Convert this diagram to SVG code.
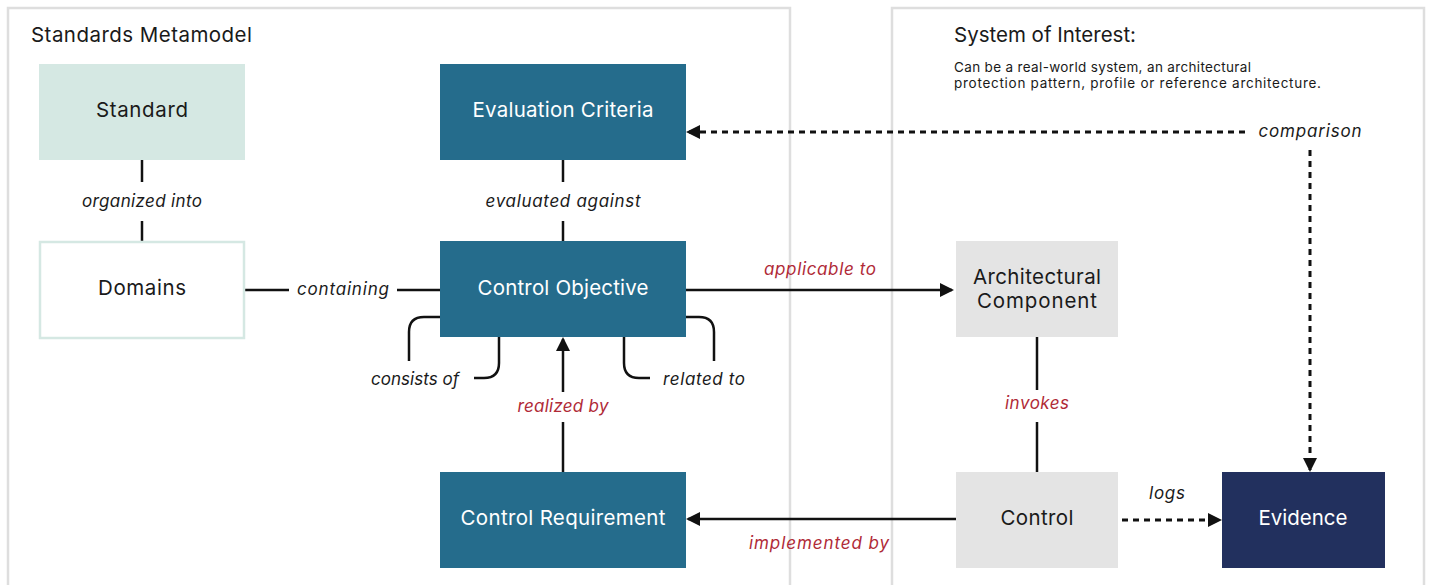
<svg xmlns="http://www.w3.org/2000/svg" width="1432" height="585" viewBox="0 0 1432 585">
<style>
.frame{fill:#fff;stroke:#dedede;stroke-width:2.5}
.t{font-family:Inter,"Open Sans","DejaVu Sans",sans-serif;text-anchor:middle}
.node{font-size:20.5px}
.dark{fill:#fff}
.light{fill:#1a1a1a}
.lbl{font-size:17px;font-style:italic;fill:#1a1a1a}
.red{fill:#b02a37}
.ln{fill:none;stroke:#111;stroke-width:2.5}
.dash{fill:none;stroke:#111;stroke-width:3;stroke-dasharray:6 5}
.title{font-family:Inter,"Open Sans","DejaVu Sans",sans-serif;font-size:20.5px;fill:#1a1a1a}
.small{font-family:Inter,"Open Sans","DejaVu Sans",sans-serif;font-size:13.5px;fill:#1a1a1a}
</style>
<defs>
<marker id="ah" markerUnits="userSpaceOnUse" markerWidth="16" markerHeight="14" refX="12" refY="7" orient="auto">
<path d="M0,0 L14,7 L0,14 z" fill="#111"/>
</marker>
</defs>
<rect x="0" y="0" width="1432" height="585" fill="#fff"/>
<g id="frame-standards">
<rect class="frame" x="8" y="8" width="782" height="600"/>
<text class="title" x="31" y="42" textLength="221" lengthAdjust="spacing">Standards Metamodel</text>
</g>
<g id="frame-system">
<rect class="frame" x="892" y="8" width="532" height="600"/>
<text class="title" x="954" y="42" textLength="182" lengthAdjust="spacing">System of Interest:</text>
<text class="small" x="954" y="72" textLength="297" lengthAdjust="spacing">Can be a real-world system, an architectural</text>
<text class="small" x="954" y="88" textLength="367" lengthAdjust="spacing">protection pattern, profile or reference architecture.</text>
</g>
<g id="connectors">
<line class="ln" x1="142" y1="160" x2="142" y2="182"/>
<line class="ln" x1="142" y1="221" x2="142" y2="241"/>
<text class="t lbl" x="142" y="207" textLength="120" lengthAdjust="spacing">organized into</text>
<line class="ln" x1="563" y1="160" x2="563" y2="182"/>
<line class="ln" x1="563" y1="221" x2="563" y2="241"/>
<text class="t lbl" x="563" y="207" textLength="155" lengthAdjust="spacing">evaluated against</text>
<line class="ln" x1="245" y1="290" x2="289" y2="290"/>
<line class="ln" x1="397" y1="290" x2="440" y2="290"/>
<text class="t lbl" x="343" y="295" textLength="92" lengthAdjust="spacing">containing</text>
<line class="ln" x1="686" y1="290" x2="952" y2="290" marker-end="url(#ah)"/>
<text class="t lbl red" x="820" y="275" textLength="112" lengthAdjust="spacing">applicable to</text>
<path class="ln" d="M440,317 H424 Q409,317 409,332 V361"/>
<path class="ln" d="M499,337 V363 Q499,378 484,378 H474"/>
<text class="t lbl" x="415" y="385" textLength="88" lengthAdjust="spacing">consists of</text>
<path class="ln" d="M624,337 V363 Q624,378 639,378 H650"/>
<path class="ln" d="M686,317 H699 Q714,317 714,332 V361"/>
<text class="t lbl" x="704" y="385" textLength="82" lengthAdjust="spacing">related to</text>
<line class="ln" x1="563" y1="472" x2="563" y2="422"/>
<line class="ln" x1="563" y1="392" x2="563" y2="339" marker-end="url(#ah)"/>
<text class="t lbl red" x="563" y="412" textLength="91" lengthAdjust="spacing">realized by</text>
<line class="ln" x1="956" y1="519" x2="688" y2="519" marker-end="url(#ah)"/>
<text class="t lbl red" x="819" y="549" textLength="140" lengthAdjust="spacing">implemented by</text>
<line class="ln" x1="1037" y1="337" x2="1037" y2="390"/>
<line class="ln" x1="1037" y1="422" x2="1037" y2="472"/>
<text class="t lbl red" x="1037" y="409" textLength="64" lengthAdjust="spacing">invokes</text>
<line class="dash" x1="1122" y1="520" x2="1220" y2="520" marker-end="url(#ah)"/>
<text class="t lbl" x="1167" y="499" textLength="36" lengthAdjust="spacing">logs</text>
<line class="dash" x1="1245" y1="132" x2="688" y2="132" marker-end="url(#ah)"/>
<text class="t lbl" x="1310" y="137" textLength="103" lengthAdjust="spacing">comparison</text>
<line class="dash" x1="1310" y1="150" x2="1310" y2="470" marker-end="url(#ah)"/>
</g>
<g id="node-standard">
<rect x="39" y="64" width="206" height="96" fill="#d5e8e3"/>
<text class="t node light" x="142" y="117" textLength="92" lengthAdjust="spacing">Standard</text>
</g>
<g id="node-domains">
<rect x="40" y="242" width="204" height="96" fill="#fff" stroke="#d5e8e3" stroke-width="2.5"/>
<text class="t node light" x="142" y="295" textLength="88" lengthAdjust="spacing">Domains</text>
</g>
<g id="node-evaluation">
<rect x="440" y="64" width="246" height="96" fill="#256c8c"/>
<text class="t node dark" x="563" y="117" textLength="181" lengthAdjust="spacing">Evaluation Criteria</text>
</g>
<g id="node-objective">
<rect x="440" y="241" width="246" height="96" fill="#256c8c"/>
<text class="t node dark" x="563" y="295" textLength="171" lengthAdjust="spacing">Control Objective</text>
</g>
<g id="node-requirement">
<rect x="440" y="472" width="246" height="96" fill="#256c8c"/>
<text class="t node dark" x="563" y="525" textLength="205" lengthAdjust="spacing">Control Requirement</text>
</g>
<g id="node-component">
<rect x="956" y="241" width="162" height="96" fill="#e4e4e4"/>
<text class="t node light" x="1037" y="284" textLength="128" lengthAdjust="spacing">Architectural</text>
<text class="t node light" x="1037" y="308" textLength="120" lengthAdjust="spacing">Component</text>
</g>
<g id="node-control">
<rect x="956" y="472" width="162" height="96" fill="#e4e4e4"/>
<text class="t node light" x="1037" y="525" textLength="73" lengthAdjust="spacing">Control</text>
</g>
<g id="node-evidence">
<rect x="1222" y="472" width="163" height="96" fill="#22305e"/>
<text class="t node dark" x="1303" y="525" textLength="89" lengthAdjust="spacing">Evidence</text>
</g>
</svg>
